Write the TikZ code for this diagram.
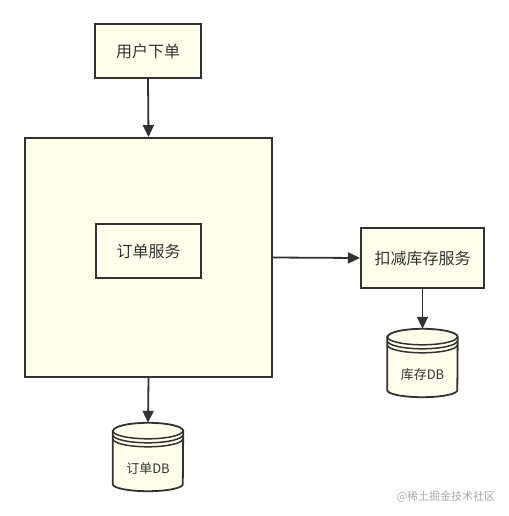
\documentclass[tikz,border=0pt]{standalone}
\usepackage{fontspec}
\newfontfamily\cjk{Noto Sans CJK SC}
\usetikzlibrary{arrows.meta}
\definecolor{boxfill}{HTML}{FFFFEB}
\definecolor{stroke}{HTML}{323232}
\definecolor{txt}{HTML}{333333}
\definecolor{wm}{HTML}{AAAAAA}
\tikzset{
  box/.style={draw=stroke, fill=boxfill, line width=2pt, inner sep=0pt, font=\cjk\fontsize{16}{18}\selectfont, text=txt},
  conn/.style={draw=stroke, line width=1.8pt, -{Triangle[length=12pt,width=11pt]}},
  dbarea/.style={inner sep=0pt, minimum width=70pt, minimum height=68pt},
  dblabel/.style={font=\cjk\fontsize{13}{15}\selectfont, text=txt, inner sep=0pt},
  cyl/.style={draw=stroke, fill=boxfill, line width=1.8pt},
  ring/.style={draw=stroke, line width=1.5pt},
}
\begin{document}
\begin{tikzpicture}[x=1pt,y=-1pt]
\useasboundingbox (0,0) rectangle (508,516);
\fill[white] (0,0) rectangle (508,516);

% boxes
\node[box, minimum width=106pt, minimum height=54pt] (user) at (148,51) {用户下单};
\node[box, minimum width=247pt, minimum height=239pt] (big) at (148.5,257.5) {};
\node[box, minimum width=105pt, minimum height=54pt] (os) at (148.5,251) {订单服务};
\node[box, minimum width=123pt, minimum height=60pt] (ds) at (422.5,258) {扣减库存服务};

% DB areas
\node[dbarea] (odb) at (148,457) {};
\node[dbarea] (sdb) at (422.5,363) {};

% cylinders
\foreach \n in {odb,sdb}{
  \path[cyl] ([yshift=-8pt]\n.north west) -- ([yshift=7pt]\n.south west)
     arc[start angle=180, end angle=360, x radius=35pt, y radius=7pt]
     -- ([yshift=-8pt]\n.north east)
     arc[start angle=0, end angle=180, x radius=35pt, y radius=8pt] -- cycle;
  \draw[ring] ([yshift=-8pt]\n.north west) arc[start angle=180, end angle=360, x radius=35pt, y radius=8pt];
  \draw[ring] ([yshift=-12pt]\n.north west) arc[start angle=180, end angle=360, x radius=35pt, y radius=8pt];
  \draw[ring] ([yshift=-16pt]\n.north west) arc[start angle=180, end angle=360, x radius=35pt, y radius=8pt];
}
\node[dblabel] (odbl) at (148,469) {订单DB};
\node[dblabel] (sdbl) at (422.5,375) {库存DB};

% connectors
\draw[conn] (user.south) -- (big.north);
\draw[conn] (big.east) -- (ds.west);
\draw[conn] (big.south) -- (odb.north);
\draw[conn] (ds.south) -- (sdb.north);

% watermark
\node[font=\cjk\fontsize{11}{13}\selectfont, text=wm, inner sep=0pt] (wmk) at (446,497) {@稀土掘金技术社区};
\end{tikzpicture}
\end{document}
